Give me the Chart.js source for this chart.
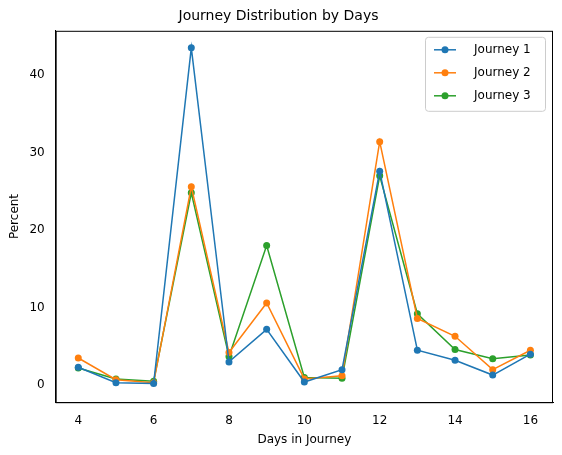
<!DOCTYPE html>
<html>
<head>
<script src="https://cdn.jsdelivr.net/npm/chart.js@4"></script>
<style>
  body { margin: 0; background: #fff; }
  #wrap { width: 562px; height: 455px; }
</style>
</head>
<body>
<div id="wrap"><canvas id="chart"></canvas></div>
<script>
var days = [4, 5, 6, 7, 8, 9, 10, 11, 12, 13, 14, 15, 16];
var journey1 = [2.3, 0.3, 0.2, 43.5, 3.0, 7.2, 0.4, 2.0, 27.6, 4.5, 3.2, 1.3, 4.0];
var journey2 = [3.5, 0.7, 0.3, 25.6, 4.2, 10.6, 0.8, 1.2, 31.4, 8.6, 6.3, 2.0, 4.5];
var journey3 = [2.2, 0.8, 0.5, 24.8, 3.7, 18.0, 1.0, 0.9, 27.0, 9.2, 4.6, 3.4, 3.9];

function pts(vals) {
    return days.map(function (d, i) { return { x: d, y: vals[i] }; });
}
function ds(label, vals, color) {
    return {
        label: label, data: pts(vals), borderColor: color, backgroundColor: color,
        borderWidth: 1.5, pointRadius: 3.5, pointHoverRadius: 3.5, pointBorderWidth: 0, tension: 0
    };
}

var font = { family: 'DejaVu Sans', size: 12 };
Chart.defaults.color = '#000';

// frame around plot + matplotlib-style legend box
var framePlugin = {
    id: 'frame',
    afterDraw: function (chart) {
        var c = chart.ctx, a = chart.chartArea;
        c.save();
        c.strokeStyle = '#000'; c.lineWidth = 1;
        c.strokeRect(a.left + 0.5, a.top + 0.5, a.right - a.left - 1, a.bottom - a.top);
        var w = 120, h = 74, x = a.right - w - 8, y = a.top + 6;
        c.fillStyle = 'rgba(255,255,255,0.8)';
        c.strokeStyle = '#ccc';
        c.beginPath(); c.roundRect(x + 0.5, y + 0.5, w, h, 3); c.fill(); c.stroke();
        c.font = '12px DejaVu Sans'; c.textBaseline = 'middle';
        chart.data.datasets.forEach(function (d, i) {
            var yy = y + 13 + i * 23;
            c.strokeStyle = d.borderColor; c.lineWidth = 1.5;
            c.beginPath(); c.moveTo(x + 9, yy); c.lineTo(x + 31, yy); c.stroke();
            c.fillStyle = d.borderColor;
            c.beginPath(); c.arc(x + 20, yy, 3.5, 0, Math.PI * 2); c.fill();
            c.fillStyle = '#000';
            c.fillText(d.label, x + 49, yy);
        });
        c.restore();
    }
};

new Chart(document.getElementById('chart'), {
    type: 'line',
    data: {
        datasets: [
            ds('Journey 1', journey1, '#1f77b4'),
            ds('Journey 2', journey2, '#ff7f0e'),
            ds('Journey 3', journey3, '#2ca02c')
        ]
    },
    plugins: [framePlugin],
    options: {
        responsive: true,
        maintainAspectRatio: false,
        animation: false,
        layout: { padding: { top: 2, right: 9, bottom: 4, left: 4 } },
        plugins: {
            title: { display: true, text: 'Journey Distribution by Days', font: { family: 'DejaVu Sans', size: 14, weight: 'normal' }, padding: { top: 6, bottom: 6 } },
            legend: { display: false },
            tooltip: { enabled: false }
        },
        scales: {
            x: {
                type: 'linear', min: 3.4, max: 16.6,
                grid: { display: false },
                border: { color: '#000' },
                ticks: { font: font },
                afterBuildTicks: function (a) { a.ticks = [4, 6, 8, 10, 12, 14, 16].map(function (v) { return { value: v }; }); },
                title: { display: true, text: 'Days in Journey', font: font, padding: { top: 2 } }
            },
            y: {
                min: -2.2, max: 45.7,
                grid: { display: false },
                border: { color: '#000' },
                ticks: { font: font },
                afterBuildTicks: function (a) { a.ticks = [0, 10, 20, 30, 40].map(function (v) { return { value: v }; }); },
                title: { display: true, text: 'Percent', font: font }
            }
        }
    }
});
</script>
</body>
</html>
